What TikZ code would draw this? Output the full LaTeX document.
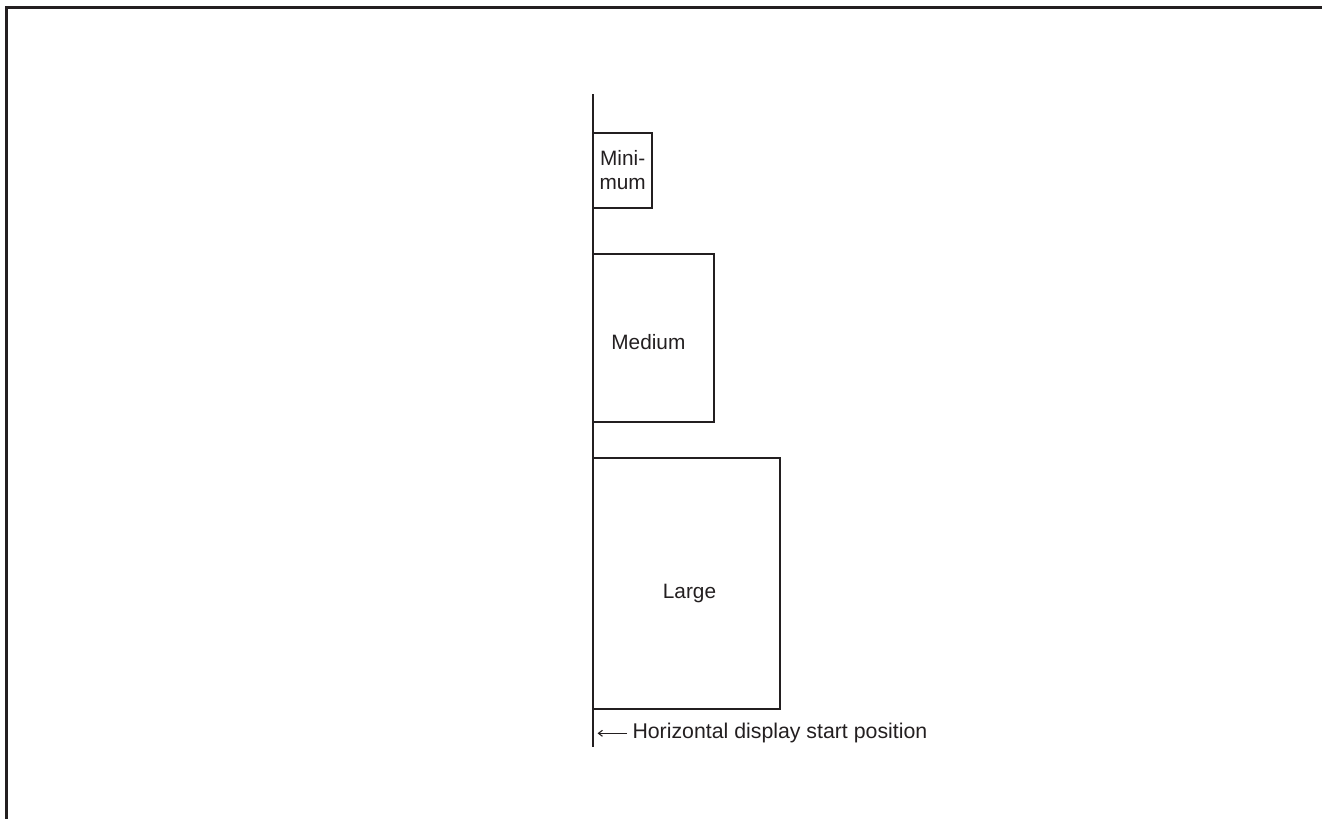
\documentclass[tikz,border=0pt]{standalone}
\usepackage{fontspec}
\setmainfont{Liberation Sans}
\usetikzlibrary{positioning, arrows.meta}
\definecolor{ink}{HTML}{231F20}

\begin{document}
\begin{tikzpicture}[x=1pt,y=-1pt,every node/.style={inner sep=0pt,outer sep=0pt},font=\fontsize{20.8}{24}\selectfont,
    line width=2.3pt,draw=ink,text=ink,
    sizebox/.style={draw=ink,line width=2.3pt,anchor=north west,align=center}]
        \useasboundingbox (0,0) rectangle (1322,819);
        % frame
        \draw[line width=3pt] (1322,7) -- (6,7) -- (6,819);
        % display start line
        \coordinate (linetop) at (593,94);
        \coordinate (linebot) at (593,746.7);
        \draw (linetop) -- (linebot);
        % size boxes
        \node[sizebox,minimum width=59.3pt,minimum height=75.6pt] (minimum) at (593,132.7) {Mini-\\mum};
        \node[sizebox,minimum width=120.7pt,minimum height=168pt,
            label={[shift={(-5,4)}]center:Medium}] (medium) at (593,253.7) {};
        \node[sizebox,minimum width=187pt,minimum height=251.3pt,
            label={[shift={(3,10)}]center:Large}] (large) at (593,457.7) {};
        % start position label
        \node[anchor=west,font=\fontsize{21.3}{24}\selectfont] (startpos) at (632.5,733.3) {Horizontal display start position};
        \coordinate (startpt) at (597.5,733.3);
        \draw[line width=1.1pt,-{Straight Barb[length=4pt,width=6pt]}] ([xshift=-5.5pt]startpos.west) -- (startpt);
    \end{tikzpicture}
\end{document}
